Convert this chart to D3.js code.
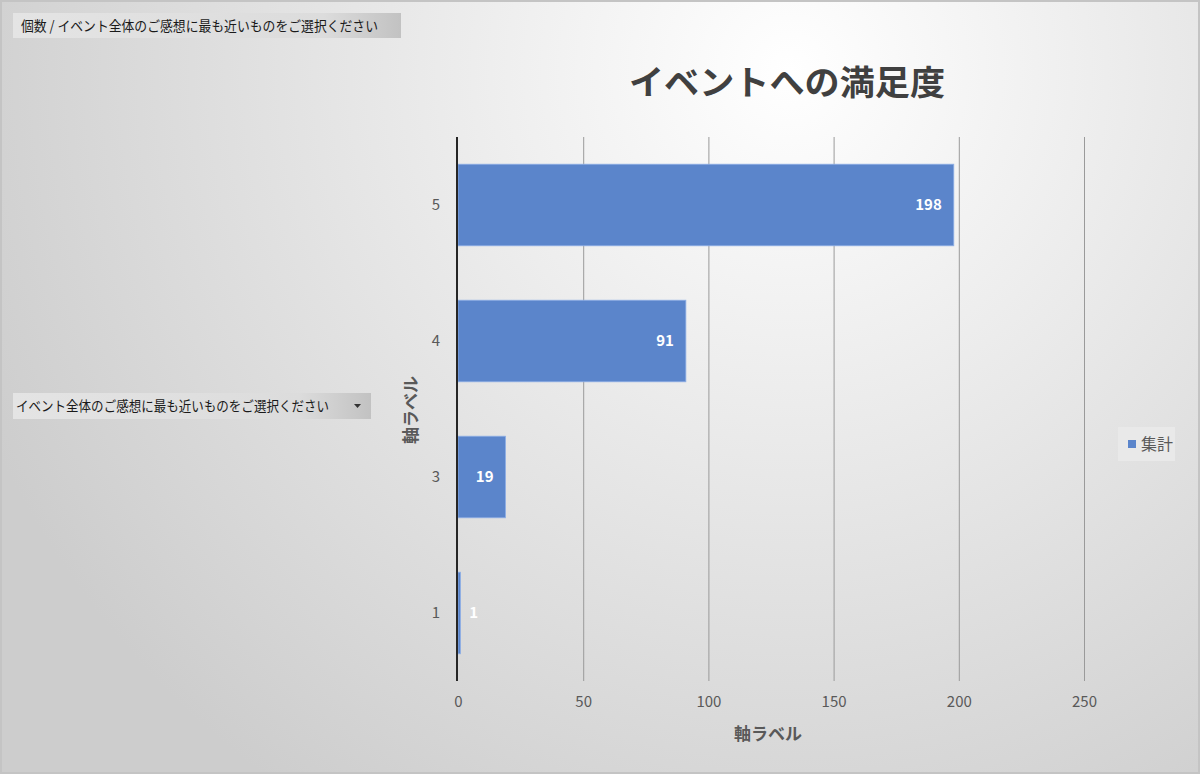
<!DOCTYPE html>
<html><head><meta charset="utf-8">
<script src="https://cdn.jsdelivr.net/npm/d3@7/dist/d3.min.js"></script>
<style>
html,body{margin:0;padding:0;background:#fff;}
svg{display:block;}
text{font-family:"Noto Sans CJK JP","Noto Sans",sans-serif;}
</style></head>
<body>
<svg id="c" width="1200" height="774"></svg>
<script>
const categories = ["5", "4", "3", "1"];
const values = [198, 91, 19, 1];
const xTicks = [0, 50, 100, 150, 200, 250];
const seriesName = "集計";
const title = "イベントへの満足度";
const axisTitle = "軸ラベル";
const filterLabel = "個数 / イベント全体のご感想に最も近いものをご選択ください";
const rowField = "イベント全体のご感想に最も近いものをご選択ください";

(function(){
const svg = d3.select("#c");
const W = 1200, H = 774;
const defs = svg.append("defs");
const bg = defs.append("radialGradient").attr("id","bg")
  .attr("gradientUnits","userSpaceOnUse").attr("cx",790).attr("cy",70).attr("r",880);
bg.append("stop").attr("offset","0%").attr("stop-color","#ffffff");
bg.append("stop").attr("offset","100%").attr("stop-color","#cdcdcd");
const btn = defs.append("linearGradient").attr("id","btn").attr("x1","0").attr("x2","1").attr("y1","0").attr("y2","0");
btn.append("stop").attr("offset","0%").attr("stop-color","#e4e4e4");
btn.append("stop").attr("offset","80%").attr("stop-color","#dcdcdc");
btn.append("stop").attr("offset","100%").attr("stop-color","#c2c2c2");

svg.append("rect").attr("x",0).attr("y",0).attr("width",W).attr("height",H).attr("fill","#c4c4c4");
svg.append("rect").attr("x",2).attr("y",2).attr("width",W-4).attr("height",H-4).attr("fill","url(#bg)");

const plotTop = 137, plotBottom = 681;
const x = d3.scaleLinear().domain([0, 250]).range([458, 1084]);
const y = d3.scaleBand().domain(categories).range([plotTop, plotBottom]).paddingInner(0.4).paddingOuter(0.2);

// gridlines
const grid = svg.append("g").attr("transform",`translate(0,${plotBottom})`)
  .call(d3.axisBottom(x).tickValues(xTicks.slice(1)).tickSize(-(plotBottom-plotTop)).tickFormat(""));
grid.select(".domain").remove();
grid.selectAll("line").attr("stroke","#9a9a9a").attr("stroke-width",1);

// bars
svg.append("g").selectAll("rect").data(values).join("rect")
  .attr("x", x(0))
  .attr("y", (d,i)=>y(categories[i]))
  .attr("width", d=>x(d)-x(0))
  .attr("height", y.bandwidth())
  .attr("fill","#5b85cb")
  .attr("stroke","#8fb0e6").attr("stroke-width",0.8);

// data labels
svg.append("g").selectAll("text").data(values).join("text")
  .attr("x", d=>Math.max(x(d)-12, x(0)+20))
  .attr("y", (d,i)=>y(categories[i])+y.bandwidth()/2)
  .attr("dy","0.36em")
  .attr("text-anchor","end")
  .attr("fill","#ffffff").attr("font-weight","bold").attr("font-size",15)
  .text(d=>d);

// y axis
const ya = svg.append("g").attr("transform",`translate(${x(0)},0)`)
  .call(d3.axisLeft(y).tickSize(0).tickPadding(18));
ya.select(".domain").attr("stroke","#262626").attr("stroke-width",2).attr("d",`M-1,${plotTop}V${plotBottom}`);
ya.selectAll("text").attr("font-size",15).attr("fill","#595959").attr("font-family","'Open Sans','Noto Sans',sans-serif");

// x axis labels
const xa = svg.append("g").attr("transform",`translate(0,${plotBottom})`)
  .call(d3.axisBottom(x).tickValues(xTicks).tickSize(0).tickPadding(15));
xa.select(".domain").remove();
xa.selectAll("text").attr("font-size",15).attr("fill","#595959").attr("font-family","'Open Sans','Noto Sans',sans-serif");

// axis titles
svg.append("text").attr("x",768).attr("y",740).attr("text-anchor","middle")
  .attr("font-size",17).attr("font-weight","bold").attr("fill","#595959").text(axisTitle);
svg.append("text").attr("transform","translate(417,410) rotate(-90)").attr("text-anchor","middle")
  .attr("font-size",17).attr("font-weight","bold").attr("fill","#595959").text(axisTitle);

// title
svg.append("text").attr("x",787).attr("y",95).attr("text-anchor","middle")
  .attr("font-size",34).attr("font-weight","bold").attr("fill","#404040")
  .attr("textLength",316).attr("lengthAdjust","spacingAndGlyphs").text(title);

// legend
svg.append("rect").attr("x",1118).attr("y",427).attr("width",57).attr("height",34).attr("fill","#e9e9e9");
svg.append("rect").attr("x",1128).attr("y",440).attr("width",8).attr("height",8).attr("fill","#5b85cb");
svg.append("text").attr("x",1141).attr("y",444).attr("dy","0.36em").attr("font-size",16).attr("fill","#595959").text(seriesName);

// pivot filter button
svg.append("rect").attr("x",13).attr("y",13).attr("width",388).attr("height",25).attr("fill","url(#btn)");
svg.append("text").attr("x",21).attr("y",26).attr("dy","0.36em").attr("font-size",14).attr("fill","#1a1a1a")
  .attr("textLength",357).attr("lengthAdjust","spacingAndGlyphs").text(filterLabel);

// row field dropdown
svg.append("rect").attr("x",13).attr("y",393).attr("width",358).attr("height",26).attr("fill","url(#btn)");
svg.append("text").attr("x",16).attr("y",406).attr("dy","0.36em").attr("font-size",14).attr("fill","#1a1a1a")
  .attr("textLength",313).attr("lengthAdjust","spacingAndGlyphs").text(rowField);
svg.append("path").attr("d","M354,404 l7,0 l-3.5,4 z").attr("fill","#333");
})();
</script>
</body></html>
